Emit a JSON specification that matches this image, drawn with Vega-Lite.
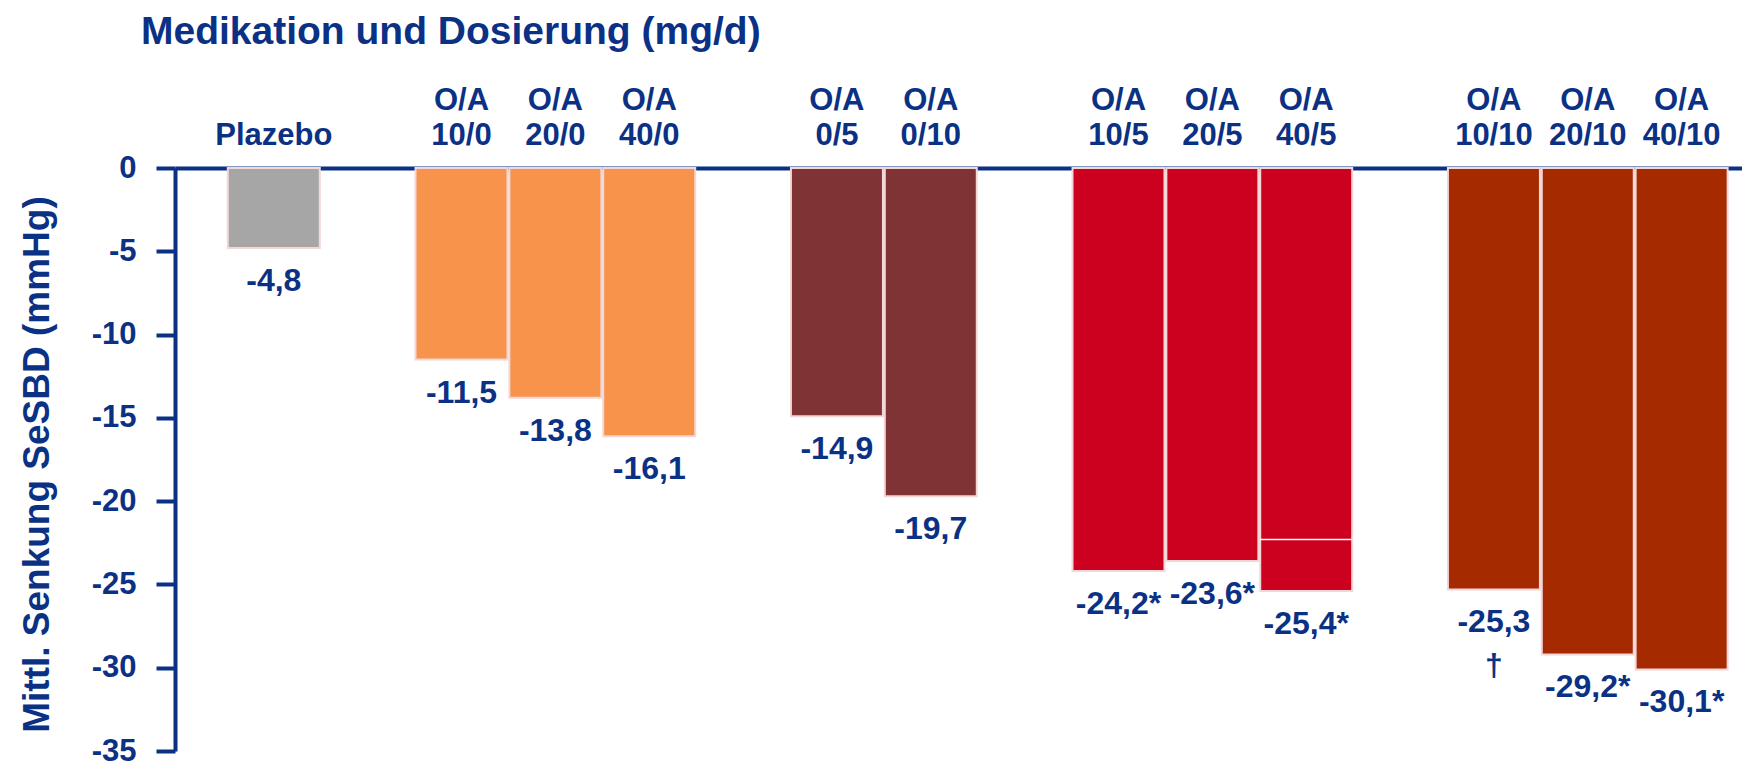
{
  "$schema": "https://vega.github.io/schema/vega-lite/v6.json",
  "width": 1567,
  "height": 583,
  "autosize": "none",
  "padding": {"left": 175, "top": 168, "right": 0, "bottom": 17},
  "background": "white",
  "config": {"view": {"stroke": null}, "font": "Liberation Sans"},
  "title": {
    "text": "Medikation und Dosierung (mg/d)",
    "anchor": "start",
    "frame": "group",
    "font": "Liberation Sans",
    "fontSize": 39,
    "fontWeight": "bold",
    "color": "#0B3185",
    "dx": -34,
    "dy": -22,
    "offset": 10
  },
  "data": {
    "values": [
      {"slot": "Plazebo", "value": -4.8, "label": "-4,8", "group": "Plazebo"},
      {"slot": "gap1", "value": null, "label": null, "group": null},
      {"slot": "O/A|10/0", "value": -11.5, "label": "-11,5", "group": "Olmesartan"},
      {"slot": "O/A|20/0", "value": -13.8, "label": "-13,8", "group": "Olmesartan"},
      {"slot": "O/A|40/0", "value": -16.1, "label": "-16,1", "group": "Olmesartan"},
      {"slot": "gap2", "value": null, "label": null, "group": null},
      {"slot": "O/A|0/5", "value": -14.9, "label": "-14,9", "group": "Amlodipin"},
      {"slot": "O/A|0/10", "value": -19.7, "label": "-19,7", "group": "Amlodipin"},
      {"slot": "gap3", "value": null, "label": null, "group": null},
      {"slot": "O/A|10/5", "value": -24.2, "label": "-24,2*", "group": "Kombi 5"},
      {"slot": "O/A|20/5", "value": -23.6, "label": "-23,6*", "group": "Kombi 5"},
      {"slot": "O/A|40/5", "value": -25.4, "label": "-25,4*", "group": "Kombi 5", "split": -22.3},
      {"slot": "gap4", "value": null, "label": null, "group": null},
      {"slot": "O/A|10/10", "value": -25.3, "label": "-25,3\n†", "group": "Kombi 10"},
      {"slot": "O/A|20/10", "value": -29.2, "label": "-29,2*", "group": "Kombi 10"},
      {"slot": "O/A|40/10", "value": -30.1, "label": "-30,1*", "group": "Kombi 10"}
    ]
  },
  "encoding": {
    "x": {
      "field": "slot",
      "type": "nominal",
      "sort": null,
      "scale": {
        "domain": ["Plazebo", "gap1", "O/A|10/0", "O/A|20/0", "O/A|40/0", "gap2", "O/A|0/5", "O/A|0/10", "gap3", "O/A|10/5", "O/A|20/5", "O/A|40/5", "gap4", "O/A|10/10", "O/A|20/10", "O/A|40/10"],
        "paddingInner": 0.02,
        "paddingOuter": 0.358,
        "align": 0.786
      },
      "axis": {
        "orient": "top",
        "title": null,
        "domain": true,
        "domainColor": "#0B3185",
        "domainWidth": 4,
        "ticks": false,
        "labelAngle": 0,
        "labelExpr": "indexof(datum.value, 'gap') == 0 ? '' : (datum.value == 'Plazebo' ? ['', 'Plazebo'] : split(datum.value, '|'))",
        "labelFont": "Liberation Sans",
        "labelFontSize": 31,
        "labelFontWeight": "bold",
        "labelColor": "#0B3185",
        "labelLineHeight": 35,
        "labelBaseline": "alphabetic",
        "labelPadding": 59,
        "labelOverlap": false,
        "labelBound": false,
        "labelFlush": false,
        "labelLimit": 0
      }
    }
  },
  "layer": [
    {
      "mark": {"type": "bar", "stroke": "#F3D6D6", "strokeWidth": 2},
      "encoding": {
        "y": {
          "field": "value",
          "type": "quantitative",
          "scale": {"domain": [-35, 0], "nice": false, "zero": true},
          "axis": {
            "values": [0, -5, -10, -15, -20, -25, -30, -35],
            "labelExpr": "datum.value == 0 ? '0' : '-' + abs(datum.value)",
            "grid": false,
            "domainColor": "#0B3185",
            "domainWidth": 4,
            "tickColor": "#0B3185",
            "tickWidth": 4,
            "tickSize": 19,
            "labelFont": "Liberation Sans",
            "labelFontSize": 31,
            "labelFontWeight": "bold",
            "labelColor": "#0B3185",
            "labelPadding": 20,
            "labelBound": false,
            "labelFlush": false,
            "labelOverlap": false,
            "title": "Mittl. Senkung SeSBD (mmHg)",
            "titleFont": "Liberation Sans",
            "titleFontSize": 37,
            "titleFontWeight": "bold",
            "titleColor": "#0B3185",
            "titleX": -138,
            "titleY": 296,
            "titleBaseline": "middle",
            "titleAngle": -90
          }
        },
        "color": {
          "field": "group",
          "type": "nominal",
          "scale": {
            "domain": ["Plazebo", "Olmesartan", "Amlodipin", "Kombi 5", "Kombi 10"],
            "range": ["#A6A6A6", "#F7934A", "#7F3335", "#CC001F", "#A52A00"]
          },
          "legend": null
        }
      }
    },
    {
      "transform": [{"filter": "isValid(datum.split)"}],
      "mark": {"type": "tick", "color": "white", "thickness": 1.5, "size": 92, "opacity": 1},
      "encoding": {
        "y": {"field": "split", "type": "quantitative"}
      }
    },
    {
      "transform": [{"filter": "isValid(datum.value)"}],
      "mark": {
        "type": "text",
        "font": "Liberation Sans",
        "fontSize": 32,
        "fontWeight": "bold",
        "color": "#0B3185",
        "baseline": "top",
        "align": "center",
        "dy": 18,
        "lineBreak": "\n",
        "lineHeight": 44
      },
      "encoding": {
        "y": {"field": "value", "type": "quantitative"},
        "text": {"field": "label", "type": "nominal"}
      }
    }
  ]
}
